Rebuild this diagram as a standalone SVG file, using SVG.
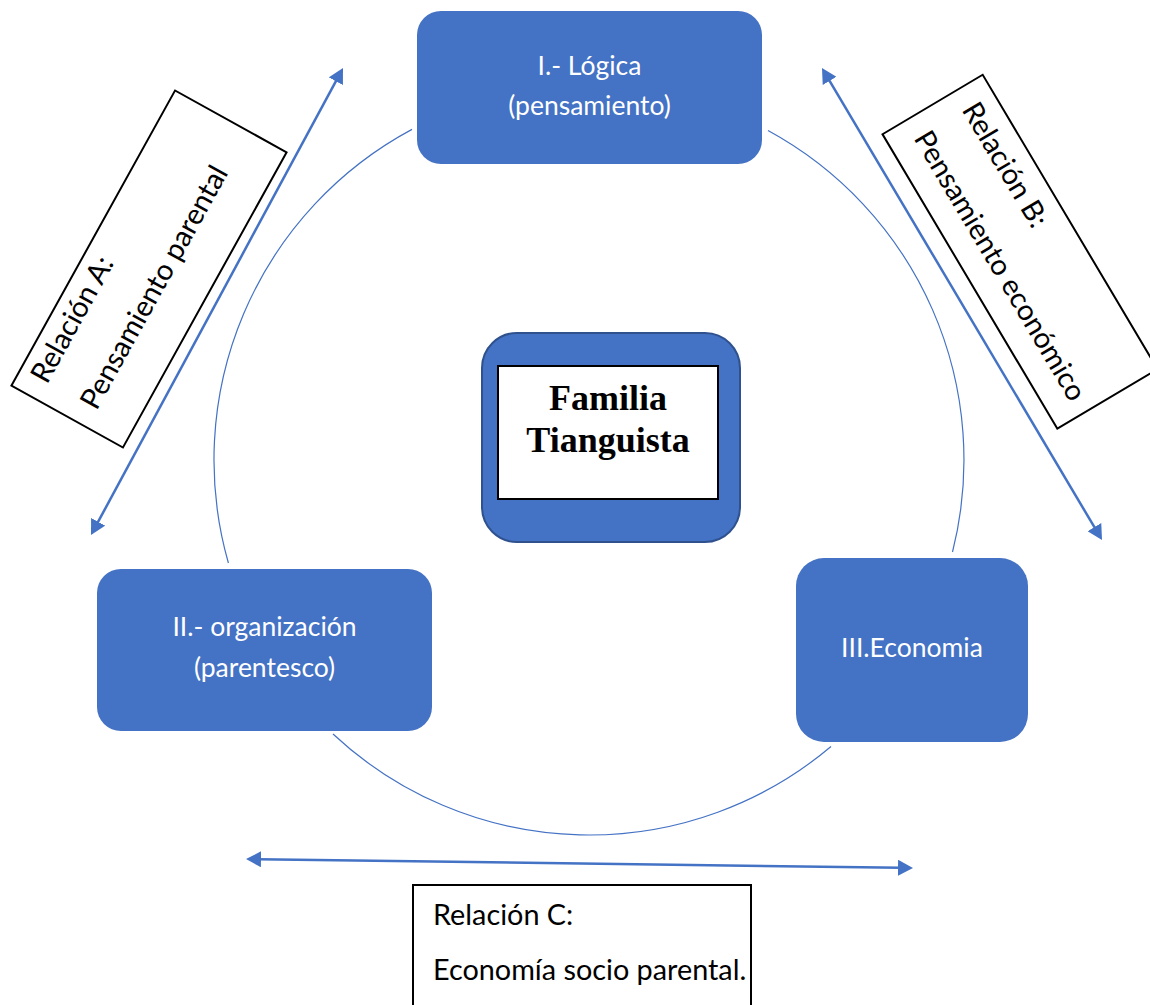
<svg xmlns="http://www.w3.org/2000/svg" width="1150" height="1005" viewBox="0 0 1150 1005">
<style>
.node{fill:#4472C4;}
.ntext{font-family:Lato,"Liberation Sans",sans-serif;font-size:26.5px;fill:#ffffff;text-anchor:middle;}
.rbox{fill:#ffffff;stroke:#000000;stroke-width:2;}
.rtext{font-family:Lato,"Liberation Sans",sans-serif;font-size:28.8px;fill:#000000;}
.arc{fill:none;stroke:#4472C4;stroke-width:1.2;}
.arrow{fill:none;stroke:#4472C4;stroke-width:2.5;marker-start:url(#ah);marker-end:url(#ah);}
.ctext{font-family:"Liberation Serif",serif;font-weight:bold;font-size:36px;fill:#000000;text-anchor:middle;}
</style>
<defs>
<marker id="ah" markerUnits="userSpaceOnUse" markerWidth="15" markerHeight="16" refX="3" refY="8" orient="auto-start-reverse">
<path d="M0,0 L15,8 L0,16 z" fill="#4472C4"/>
</marker>
</defs>
<rect width="1150" height="1005" fill="#ffffff"/>
<g id="connectors">
<path class="arc" d="M228.4,563 A375,375 0 0 1 412,129.4"/>
<path class="arc" d="M768,130.5 A375,375 0 0 1 952.5,552"/>
<path class="arc" d="M831,746.5 A375,375 0 0 1 333,734"/>
<line class="arrow" x1="96.7" y1="524.4" x2="337.3" y2="78.6"/>
<line class="arrow" x1="828.1" y1="78.3" x2="1095.9" y2="529.7"/>
<line class="arrow" x1="258" y1="859.2" x2="901" y2="867.8"/>
</g>
<g id="node-logica">
<rect class="node" x="417" y="11" width="345" height="153" rx="24"/>
<text class="ntext" x="589.5" y="75">I.- Lógica</text>
<text class="ntext" x="589.5" y="115">(pensamiento)</text>
</g>
<g id="node-organizacion">
<rect class="node" x="97" y="569" width="335" height="162" rx="24"/>
<text class="ntext" x="264.5" y="636">II.- organización</text>
<text class="ntext" x="264.5" y="677">(parentesco)</text>
</g>
<g id="node-economia">
<rect class="node" x="796" y="558" width="232" height="184" rx="28"/>
<text class="ntext" x="912" y="657">III.Economia</text>
</g>
<g id="node-familia">
<rect x="482" y="333" width="258" height="209" rx="35" fill="#4472C4" stroke="#2F528F" stroke-width="2"/>
<rect x="498" y="366" width="220" height="133" fill="#ffffff" stroke="#000000" stroke-width="2"/>
<text class="ctext" x="608" y="410">Familia</text>
<text class="ctext" x="608" y="452">Tianguista</text>
</g>
<g id="relacion-a" transform="translate(149,269) rotate(-61)">
<rect class="rbox" x="-168.75" y="-63.75" width="337.5" height="127.5"/>
<text class="rtext" x="-151" y="-33">Relación A:</text>
<text class="rtext" x="-150" y="23">Pensamiento parental</text>
</g>
<g id="relacion-b" transform="translate(1020,251.7) rotate(59.3)">
<rect class="rbox" x="-171.2" y="-58.25" width="342.4" height="116.5"/>
<text class="rtext" x="-152" y="-22">Relación B:</text>
<text class="rtext" x="-152" y="34">Pensamiento económico</text>
</g>
<g id="relacion-c">
<rect class="rbox" x="413" y="885" width="338" height="130"/>
<text class="rtext" x="433" y="925">Relación C:</text>
<text class="rtext" x="433" y="980">Economía socio parental.</text>
</g>
</svg>
